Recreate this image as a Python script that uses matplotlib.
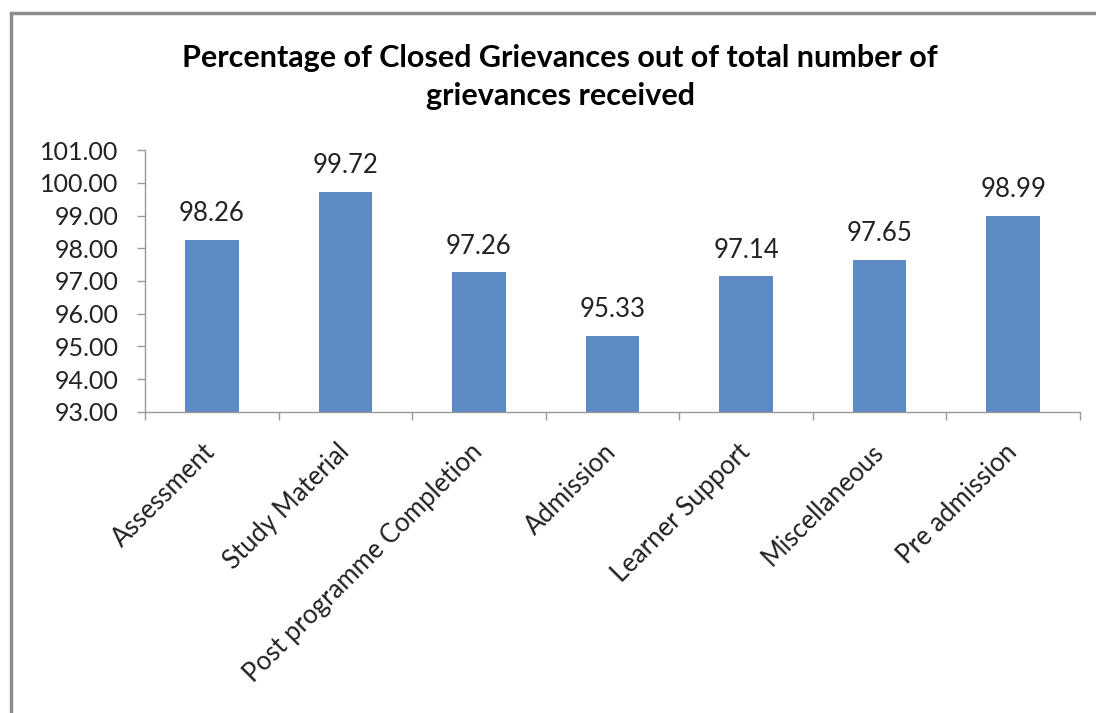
import matplotlib
matplotlib.use("Agg")
import matplotlib.pyplot as plt
from matplotlib.patches import Rectangle

categories = ["Assessment", "Study Material", "Post programme Completion",
              "Admission", "Learner Support", "Miscellaneous", "Pre admission"]
closed_pct = [98.26, 99.72, 97.26, 95.33, 97.14, 97.65, 98.99]
y_ticks = [93, 94, 95, 96, 97, 98, 99, 100, 101]

plt.rcParams['font.family'] = ['Lato', 'DejaVu Sans']

fig = plt.figure(figsize=(10.96, 7.13), dpi=100)
ax = fig.add_axes([0.1323, 0.4222, 0.8531, 0.3674])

x = list(range(len(categories)))
bars = ax.bar(x, [v - 93 for v in closed_pct], bottom=93, width=0.4, color='#5B8AC5')

for xi, v in zip(x, closed_pct):
    ax.text(xi, v + 0.42, f"{v:.2f}", ha='center', va='bottom', fontsize=18.5, color='#222222')

ax.set_ylim(93, 101)
ax.set_xlim(-0.5, len(categories) - 0.5)
ax.set_yticks(y_ticks)
ax.set_yticklabels([f"{t:.2f}" for t in y_ticks], fontsize=18, color='#222222')

ax.set_xticks(x)
ax.set_xticklabels(categories, rotation=45, ha='right', va='center', rotation_mode='anchor',
                   fontsize=18.5, color='#222222')
ax.tick_params(axis='x', which='major', length=0, pad=26)
ax.set_xticks([i - 0.5 for i in range(len(categories) + 1)], minor=True)
ax.tick_params(axis='x', which='minor', length=6, color='#999999', width=1)
ax.tick_params(axis='y', length=6, color='#999999', width=1, pad=13)

for side in ['top', 'right']:
    ax.spines[side].set_visible(False)
for side in ['left', 'bottom']:
    ax.spines[side].set_color('#999999')
    ax.spines[side].set_linewidth(1)

fig.text(0.511, 0.892, "Percentage of Closed Grievances out of total number of\ngrievances received",
         ha='center', va='center', fontsize=22, fontweight='bold', linespacing=1.45)

# outer chart frame (runs off the right and bottom of the image)
fig.patches.append(Rectangle((11 / 1096, -0.05), 1.1, 1 - 13 / 713 + 0.05,
                             transform=fig.transFigure, fill=False,
                             edgecolor='#8c8c8c', linewidth=2.5))

plt.savefig("out.png", dpi=100)
